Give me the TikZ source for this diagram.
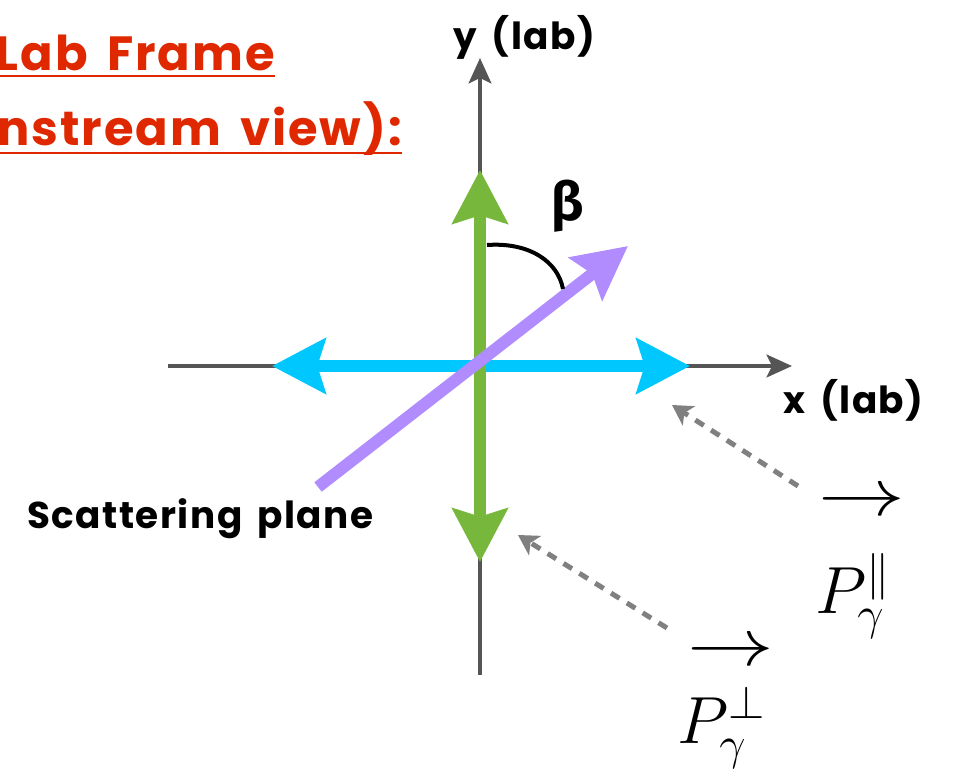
\RequirePackage{fix-cm}
\documentclass[tikz,border=0pt]{standalone}
\usepackage{fontspec}
\setmainfont{Poppins}
\newfontfamily\greekfont{Fira Sans}
\newfontfamily\widefont[LetterSpace=4,WordSpace=1.6]{Poppins}
\usetikzlibrary{arrows.meta}
\definecolor{axisgray}{HTML}{555555}
\definecolor{cyanar}{HTML}{00C8FF}
\definecolor{greenar}{HTML}{77B83C}
\definecolor{purplear}{HTML}{B08CFF}
\definecolor{titlered}{HTML}{E02800}
\definecolor{dashgray}{HTML}{808080}
\tikzset{
  axisline/.style={draw=axisgray, line width=3pt, -{Stealth[length=19pt,width=17pt,inset=4pt]}},
  bigarrow/.style={line width=9pt, {Stealth[length=40pt,width=41pt,inset=6pt]}-{Stealth[length=40pt,width=41pt,inset=6pt]}},
  onearrow/.style={line width=9pt, -{Stealth[length=40pt,width=40pt,inset=6pt]}},
  dasharrow/.style={draw=dashgray, line width=3.75pt, dash pattern=on 7.5pt off 6.5pt, -{Stealth[length=15pt,width=17pt,inset=4pt]}},
  lbl/.style={font=\widefont\fontsize{28}{32}\selectfont\bfseries, text=black, inner sep=0pt},
  ttl/.style={font=\widefont\fontsize{36}{42}\selectfont\bfseries, text=titlered, inner sep=0pt},
  mathlbl/.style={font=\fontsize{50}{60}\selectfont, inner sep=0pt},
}
\begin{document}
\begin{tikzpicture}[x=0.75pt,y=-0.75pt]
\useasboundingbox (0,0) rectangle (958,774);
\clip (0,0) rectangle (958,774);
% coordinates
\coordinate (O) at (480,366);
\coordinate (xl) at (168,366);
\coordinate (xr) at (792,366);
\coordinate (yb) at (480,675);
\coordinate (yt) at (480,58);
\coordinate (cl) at (272,366);
\coordinate (cr) at (690,366);
\coordinate (gt) at (480,170);
\coordinate (gb) at (480,562);
\coordinate (ps) at (318,487);
\coordinate (pe) at (628,246);
\coordinate (arcA) at (487,245);
\coordinate (arcB) at (563,289);
% axes
\draw[axisline] (xl) -- (xr);
\draw[axisline] (yb) -- (yt);
% polarisation arrows
\draw[bigarrow, cyanar] (cl) -- (cr);
\draw[bigarrow, greenar] (gb) -- (gt);
\draw[onearrow, purplear] (ps) -- (pe);
% beta arc
\draw[line width=3pt, black] (arcA) .. controls (530,242) and (558,262) .. (arcB);
\node[lbl, font=\fontsize{40}{44}\selectfont\bfseries\greekfont] (beta) at (568,206) {β};
% axis labels
\node[lbl, anchor=base west] (ylab) at (453,50) {y (lab)};
\node[lbl, anchor=base west] (xlab) at (783,413) {x (lab)};
\node[lbl, anchor=base west] (scat) at (27,528) {Scattering plane};
% title
\node[ttl, anchor=base east] (t1) at (275,71) {Lab Frame};
\node[ttl, anchor=base east] (t2) at (402,146) {nstream view):};
\draw[titlered, line width=1.5pt] (0,76) -- (t1.east |- 0,76);
\draw[titlered, line width=1.5pt] (0,153) -- (t2.east |- 0,153);
% P labels
\node[mathlbl] (par arrow) at (862,503) {\scalebox{1.3}[1]{$\rightarrow$}};
\node[mathlbl, anchor=base west] (par P) at (815,613) {$P_\gamma^{\parallel}$};
\node[mathlbl] (perp arrow) at (731,653) {\scalebox{1.3}[1]{$\rightarrow$}};
\node[mathlbl, anchor=base west] (perp P) at (677,743) {$P_\gamma^{\perp}$};
% dashed pointers
\coordinate (d1s) at (798,486);
\coordinate (d1e) at (672,405);
\coordinate (d2s) at (667,628);
\coordinate (d2e) at (518,535);
\draw[dasharrow] (d1s) -- (d1e);
\draw[dasharrow] (d2s) -- (d2e);
\end{tikzpicture}
\end{document}
